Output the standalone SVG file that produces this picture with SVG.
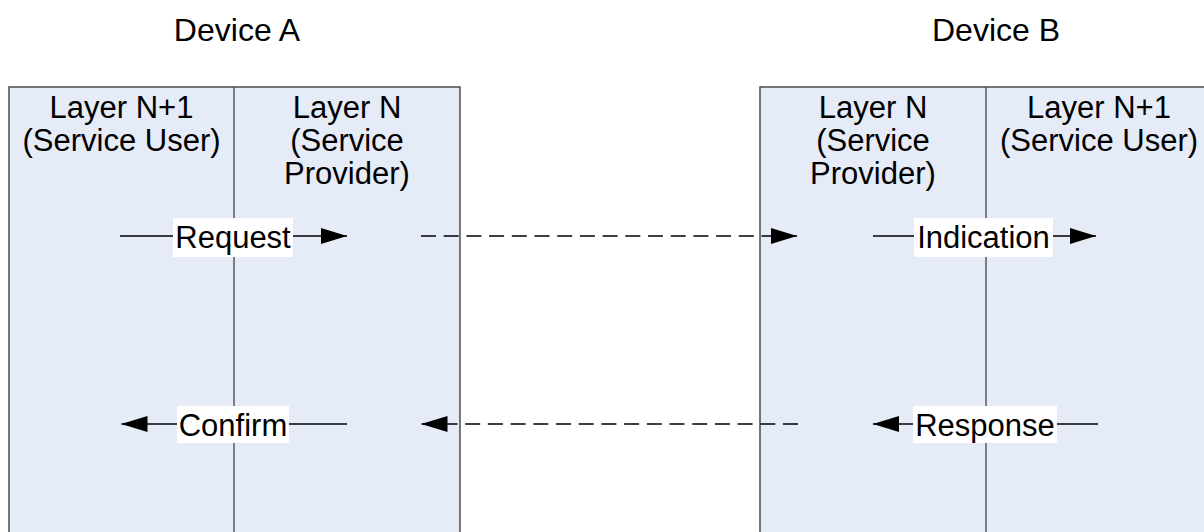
<svg xmlns="http://www.w3.org/2000/svg" width="1204" height="532" viewBox="0 0 1204 532">
<defs>
<style>
.box{fill:#e5ebf7;stroke:#404040;stroke-width:1.4}
.div{stroke:#505050;stroke-width:1.4}
.t{font-family:"Liberation Sans",Arial,sans-serif;font-size:31px;fill:#000;text-anchor:middle}
.dev{font-family:"Liberation Sans",Arial,sans-serif;font-size:32px;fill:#000;text-anchor:middle}
.ln{stroke:#000;stroke-width:1.6;fill:none}
.dash{stroke:#000;stroke-width:1.6;fill:none;stroke-dasharray:15 7.7}
.bg{fill:#fff}
</style>
<marker id="ah" viewBox="0 0 26 16" refX="26" refY="8" markerWidth="26" markerHeight="16" markerUnits="userSpaceOnUse" orient="auto">
<path d="M0,0 L26,8 L0,16 z" fill="#000"/>
</marker>
</defs>
<rect width="1204" height="532" fill="#fff"/>

<g id="deviceA">
<text class="dev" x="237" y="41">Device A</text>
<rect class="box" x="9" y="87" width="451" height="460"/>
<line class="div" x1="234" y1="87" x2="234" y2="540"/>
</g>
<g id="deviceA-layerN1">
<text class="t" x="121.5" y="118">Layer N+1</text>
<text class="t" x="121.5" y="151">(Service User)</text>
</g>
<g id="deviceA-layerN">
<text class="t" x="347" y="118">Layer N</text>
<text class="t" x="347" y="151">(Service</text>
<text class="t" x="347" y="184">Provider)</text>
</g>

<g id="deviceB">
<text class="dev" x="996" y="41">Device B</text>
<rect class="box" x="760" y="87" width="452" height="460"/>
<line class="div" x1="986" y1="87" x2="986" y2="540"/>
</g>
<g id="deviceB-layerN">
<text class="t" x="873" y="118">Layer N</text>
<text class="t" x="873" y="151">(Service</text>
<text class="t" x="873" y="184">Provider)</text>
</g>
<g id="deviceB-layerN1">
<text class="t" x="1099" y="118">Layer N+1</text>
<text class="t" x="1099" y="151">(Service User)</text>
</g>

<g id="connectors">
<line class="ln" x1="120" y1="236" x2="347" y2="236" marker-end="url(#ah)"/>
<rect class="bg" x="173" y="218" width="120" height="39"/>
<text class="t" x="233" y="248">Request</text>

<line class="dash" x1="421" y1="236" x2="797" y2="236" marker-end="url(#ah)"/>

<line class="ln" x1="873" y1="236" x2="1096" y2="236" marker-end="url(#ah)"/>
<rect class="bg" x="914" y="218" width="139" height="39"/>
<text class="t" x="983.5" y="248">Indication</text>

<line class="ln" x1="347" y1="424" x2="121.5" y2="424" marker-end="url(#ah)"/>
<rect class="bg" x="177" y="406" width="112" height="37"/>
<text class="t" x="233" y="436">Confirm</text>

<line class="dash" x1="798" y1="424" x2="421.5" y2="424" marker-end="url(#ah)"/>

<line class="ln" x1="1098" y1="424" x2="873" y2="424" marker-end="url(#ah)"/>
<rect class="bg" x="913" y="406" width="144" height="37"/>
<text class="t" x="985" y="436">Response</text>
</g>
</svg>
